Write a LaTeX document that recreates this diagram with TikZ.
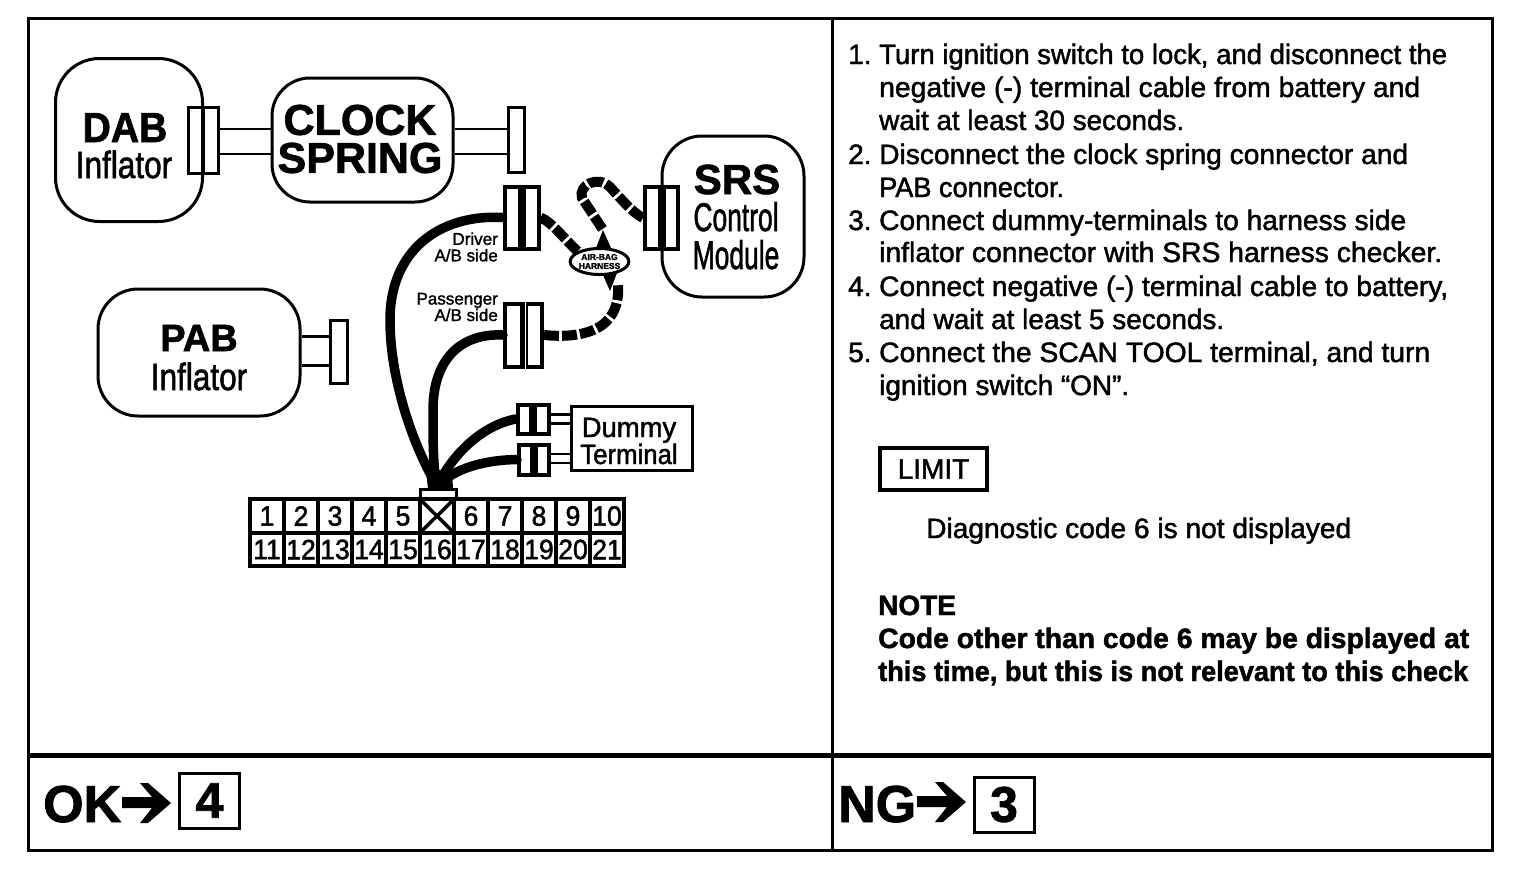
\documentclass[tikz,border=0pt]{standalone}
\usepackage{fontspec}
\setmainfont{Liberation Sans}[FakeBold=1.6]
\usetikzlibrary{shapes.geometric,calc}
\newcommand{\sx}[2]{\scalebox{#1}[1]{#2}}
\newcommand{\fsz}[1]{\fontsize{#1}{#1}\selectfont}
\newcommand{\wirepair}[3]{%
  \coordinate (wa) at ([yshift=#3pt]#1.east);
  \draw[wire] (wa) -- (wa -| #2.west);}
\tikzset{
  frameline/.style={line width=3pt,black},
  blob/.style={draw,line width=3pt,rounded corners=#1,fill=white,inner sep=0pt,align=center},
  conn/.style={draw,line width=4pt,fill=white,inner sep=0pt},
  wire/.style={line width=2.8pt},
  cable/.style={line width=9.5pt,line cap=round},
  dashcable/.style={line width=10pt,dash pattern=on 15pt off 3pt},
  midbar/.style={line width=8pt},
  cell/.style={draw,line width=3.8pt,fill=white,inner sep=0pt,minimum width=34pt,minimum height=33.5pt,font=\fsz{28}},
  body/.style={anchor=base west,inner sep=0pt,font=\fsz{28}},
  notehead/.style={anchor=base west,inner sep=0pt,font=\fsz{28}\bfseries},
  smalltxt/.style={inner sep=0pt,align=right,anchor=east,font=\fontsize{17}{16.5}\selectfont},
}
\begin{document}
\begin{tikzpicture}[x=1pt,y=-1pt]
\useasboundingbox (0,0) rectangle (1536,876);
% frame
\node[draw,line width=3pt,minimum width=1464pt,minimum height=832pt,inner sep=0pt] (frame) at (760,434) {};
\coordinate (vt) at (832,18); \coordinate (vb) at (832,850);
\coordinate (hl) at (28,755.5); \coordinate (hr) at (1492,755.5);
\draw[frameline] (vt) -- (vb);
\draw[line width=5pt] (hl) -- (hr);

% big boxes
\node[blob=44pt,minimum width=147pt,minimum height=163pt] (dab) at (129,140) {};
\node[anchor=base,inner sep=0pt,font=\fsz{42}\bfseries] (dabt) at (125,142) {\sx{.93}{DAB}};
\node[anchor=base,inner sep=0pt,font=\fsz{38}] (dabi) at (124,178) {\sx{.83}{Inflator}};

\node[blob=38pt,minimum width=181pt,minimum height=124pt] (clock) at (362.5,140) {};
\node[inner sep=0pt,align=center,font=\fontsize{43}{38}\selectfont\bfseries] (clockt) at (360,139) {CLOCK\\SPRING};

\node[blob=40pt,minimum width=142pt,minimum height=161pt] (srs) at (733,216.5) {};
\node[anchor=base,inner sep=0pt,font=\fsz{42}\bfseries] (srst) at (737,194) {SRS};
\node[anchor=base,inner sep=0pt,font=\fsz{40}] (srsc) at (736,231) {\sx{.66}{Control}};
\node[anchor=base,inner sep=0pt,font=\fsz{40}] (srsm) at (736,269) {\sx{.66}{Module}};

\node[blob=40pt,minimum width=202pt,minimum height=127pt] (pab) at (199,352.5) {};
\node[anchor=base,inner sep=0pt,font=\fsz{38}\bfseries] (pabt) at (199,351) {PAB};
\node[anchor=base,inner sep=0pt,font=\fsz{38}] (pabi) at (199,390) {\sx{.83}{Inflator}};

% connectors
\node[conn,line width=3pt,minimum width=30pt,minimum height=66pt] (dabc) at (203,140) {};
\draw[line width=3.5pt] (dabc.north) -- (dabc.south);
\node[conn,line width=3pt,minimum width=16pt,minimum height=65pt] (clkc) at (516,140) {};
\node[conn,line width=3pt,minimum width=17pt,minimum height=63pt] (pabc) at (338.5,351.5) {};
\node[conn,minimum width=34pt,minimum height=62pt] (drvc) at (521.5,217.5) {};
\draw[midbar] (drvc.north) -- (drvc.south);
\node[conn,minimum width=37pt,minimum height=63pt] (pasc) at (523.5,335) {};
\draw[midbar] (pasc.north) -- (pasc.south);
\draw[white,line width=1pt] ([xshift=1.5pt]pasc.north) -- ([xshift=1.5pt]pasc.south);
\node[conn,minimum width=33pt,minimum height=62pt] (srsk) at (661.5,218) {};
\draw[midbar] (srsk.north) -- (srsk.south);

\wirepair{dabc}{clock}{11}
\wirepair{dabc}{clock}{-14}
\wirepair{clock}{clkc}{11}
\wirepair{clock}{clkc}{-14}
\wirepair{pab}{pabc}{16}
\wirepair{pab}{pabc}{-13}

% terminal grid
\foreach \n/\t [count=\i from 0] in {a1/1,a2/2,a3/3,a4/4,a5/5,a6/,a7/6,a8/7,a9/8,a10/9,a11/10}{
  \node[cell] (\n) at (267+34*\i,516) {\sx{.95}{\t}};
}
\foreach \n/\t [count=\i from 0] in {b1/11,b2/12,b3/13,b4/14,b5/15,b6/16,b7/17,b8/18,b9/19,b10/20,b11/21}{
  \node[cell] (\n) at (267+34*\i,549.5) {\sx{.95}{\t}};
}
\draw[line width=3.5pt] (a6.north west) -- (a6.south east);
\draw[line width=3.5pt] (a6.north east) -- (a6.south west);
\node[conn,line width=3pt,minimum width=36pt,minimum height=9pt] (plug) at (438,494) {};

% dummy terminal
\node[conn,line width=3pt,minimum width=121pt,minimum height=64pt] (dummy) at (631.5,438) {};
\node[anchor=base,inner sep=0pt,font=\fsz{28}] (dummyt) at (629,437) {\sx{.98}{Dummy}};
\node[anchor=base,inner sep=0pt,font=\fsz{28}] (dummyb) at (629,464) {\sx{.92}{Terminal}};
\node[conn,minimum width=31pt,minimum height=29pt] (d1) at (533,419) {};
\draw[midbar] (d1.north) -- (d1.south);
\node[conn,minimum width=30pt,minimum height=30pt] (d2) at (534,459.5) {};
\draw[midbar] (d2.north) -- (d2.south);
\wirepair{d1}{dummy}{4.5}
\wirepair{d1}{dummy}{-4.5}
\wirepair{d2}{dummy}{5.5}
\wirepair{d2}{dummy}{-3.5}

% thick cables
\coordinate (root) at (437,486);
\draw[cable] (drvc.west) .. controls (440,214) and (390,250) .. (390,320) .. controls (390,375) and (410,440) .. (root);
\draw[cable] (pasc.west) .. controls (460,333) and (433,360) .. (433,410) .. controls (433,440) and (433,470) .. (root);
\draw[cable] (d1.west) .. controls (485,425) and (455,450) .. (root);
\draw[cable] (d2.west) .. controls (485,460) and (455,468) .. (root);
\fill (428,489) -- (426,470) -- (452,470) -- (453,489) -- cycle;

% harness
\node[draw,ellipse,line width=3pt,fill=white,inner sep=0pt,minimum width=53pt,minimum height=26pt,align=center,font=\fontsize{8.5}{9}\selectfont\bfseries] (har) at (599.5,261.5) {AIR-BAG\\HARNESS};
\coordinate (lo1) at (618,283);
\coordinate (lo2) at (582,198);
\draw[dashcable] (drvc.east) .. controls (552,222) and (565,240) .. (har.north west);
\draw[dashcable] ($(har.north)+(3,-18)$) -- (lo2) .. controls (578,185) and (598,175) .. (610,187) .. controls (622,200) and (632,212) .. (srsk.west);
\draw[dashcable] (pasc.east) .. controls (575,338) and (622,335) .. (lo1);
\fill (603,275) -- (617,273) -- (610,291) -- cycle;
\fill (596,248) -- (611,248) -- (603,230) -- cycle;

% small labels
\node[smalltxt] (drvl) at (498,247) {Driver\\A/B side};
\node[smalltxt] (pasl) at (498,307) {Passenger\\A/B side};

% right column text
\foreach \nn/\nx/\ny in {1./848/64,2./848/164,3./848/230,4./848/296,5./848/362}{
  \node[body] (num\ny) at (\nx,\ny) {\nn};
}
\foreach \xx/\yy/\ww/\tt [count=\k] in {
 879/64/568/{Turn ignition switch to lock, and disconnect the},
 879/97/541/{negative (-) terminal cable from battery and},
 879/130/305/{wait at least 30 seconds.},
 879/164/529/{Disconnect the clock spring connector and},
 879/197/185/{PAB connector.},
 879/230/527/{Connect dummy-terminals to harness side},
 879/262/563/{inflator connector with SRS harness checker.},
 879/296/569/{Connect negative (-) terminal cable to battery,},
 879/329/345/{and wait at least 5 seconds.},
 879/362/551/{Connect the SCAN TOOL terminal, and turn},
 879/395/250/{ignition switch “ON”.},
 926/538/425/{Diagnostic code 6 is not displayed}}{
  \node[body] (line\k) at (\xx,\yy) {\resizebox{\ww pt}{\height}{\tt}};
}
\node[draw,line width=4.5pt,minimum width=107pt,minimum height=42pt,inner sep=0pt,font=\fsz{28}] (limit) at (933.5,469) {LIMIT};
\node[notehead] (note1) at (878,615) {NOTE};
\node[notehead] (note2) at (878,648) {\resizebox{591pt}{\height}{Code other than code 6 may be displayed at}};
\node[notehead] (note3) at (878,681) {\resizebox{590pt}{\height}{this time, but this is not relevant to this check}};

% bottom
\node[anchor=base west,inner sep=0pt,font=\fsz{52}\bfseries] (ok) at (43,822) {OK};
\node[anchor=base west,inner sep=0pt,font=\fsz{52}\bfseries] (ng) at (838,822) {NG};
\node[draw,line width=3pt,minimum width=60pt,minimum height=55pt,inner sep=0pt,font=\fsz{50}\bfseries] (four) at (209.5,800.5) {4};
\node[draw,line width=3pt,minimum width=60pt,minimum height=55pt,inner sep=0pt,font=\fsz{50}\bfseries] (three) at (1004,804.5) {3};
\foreach \ox/\oy in {0/0,795/-1}{
  \fill[shift={(\ox,\oy)}] (122,797) -- (152,797) -- (140,783) -- (148,783) -- (171,803) -- (148,823) -- (140,823) -- (152,808) -- (122,808) -- cycle;
}
\end{tikzpicture}
\end{document}
